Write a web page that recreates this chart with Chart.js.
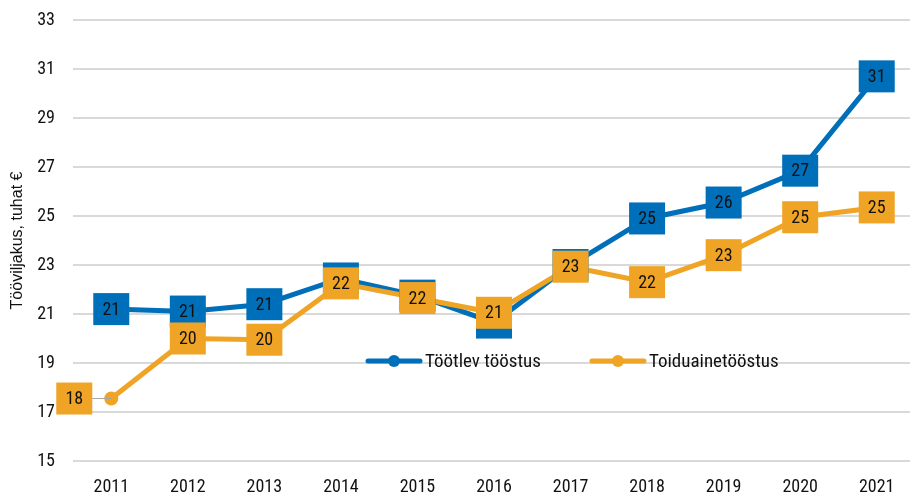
<!DOCTYPE html>
<html>
<head>
<meta charset="utf-8">
<script src="https://cdn.jsdelivr.net/npm/chart.js@4.4.1/dist/chart.umd.min.js"></script>
<style>
  html, body { margin: 0; padding: 0; background: #fff; overflow: hidden; }
  canvas { display: block; }
</style>
</head>
<body>
<canvas id="chart" width="922" height="492"></canvas>
<script>
// years on the x axis
const years = ['2011', '2012', '2013', '2014', '2015', '2016', '2017', '2018', '2019', '2020', '2021'];

// labour productivity, thousand euros per employee
const manufacturing = [21.2, 21.1, 21.4, 22.45, 21.75, 20.65, 23.0, 24.9, 25.55, 26.85, 30.7];
const foodIndustry  = [17.55, 20.0, 19.95, 22.25, 21.65, 21.05, 22.93, 22.3, 23.4, 24.95, 25.35];

const seriesNames = ['Töötlev tööstus', 'Toiduainetööstus'];
const yTicks = [15, 17, 19, 21, 23, 25, 27, 29, 31, 33];

const BLUE = '#006fb9';
const ORANGE = '#f0a425';
const condensed = '"Roboto Condensed", "Liberation Sans Narrow", sans-serif';

// square value boxes drawn on top of each point
const boxLabels = {
  id: 'boxLabels',
  afterDatasetsDraw(chart, args, opts) {
    const ctx = chart.ctx;
    ctx.save();
    ctx.font = '18px ' + condensed;
    ctx.textAlign = 'center';
    ctx.textBaseline = 'middle';
    chart.data.datasets.forEach((ds, di) => {
      const meta = chart.getDatasetMeta(di);
      meta.data.forEach((pt, i) => {
        const shift = (opts.shifts[di] && opts.shifts[di][i]) || 0;
        const cx = pt.x + shift;
        const cy = pt.y;
        if (shift) {
          ctx.strokeStyle = '#a6a6a6';
          ctx.lineWidth = 1;
          ctx.beginPath();
          ctx.moveTo(cx + (shift < 0 ? 18 : -18), cy);
          ctx.lineTo(pt.x, pt.y);
          ctx.stroke();
        }
        ctx.fillStyle = ds.borderColor;
        ctx.fillRect(cx - 18, cy - 16, 36, 32);
        ctx.fillStyle = '#111';
        ctx.fillText(Math.round(ds.data[i]), cx, cy + 1);
      });
    });
    ctx.restore();
  }
};

// legend sitting inside the plot area
const innerLegend = {
  id: 'innerLegend',
  afterDatasetsDraw(chart, args, opts) {
    const ctx = chart.ctx;
    ctx.save();
    ctx.font = '19px ' + condensed;
    ctx.textBaseline = 'middle';
    let x = opts.x;
    const y = opts.y;
    chart.data.datasets.forEach(ds => {
      ctx.strokeStyle = ds.borderColor;
      ctx.lineWidth = 5;
      ctx.lineCap = 'round';
      ctx.beginPath();
      ctx.moveTo(x + 2, y);
      ctx.lineTo(x + 54, y);
      ctx.stroke();
      ctx.fillStyle = ds.borderColor;
      ctx.beginPath();
      ctx.arc(x + 28, y, 6, 0, Math.PI * 2);
      ctx.fill();
      ctx.fillStyle = '#111';
      ctx.fillText(ds.label, x + 59, y + 1);
      x += 59 + ctx.measureText(ds.label).width + 49;
    });
    ctx.restore();
  }
};

new Chart(document.getElementById('chart'), {
  type: 'line',
  data: {
    labels: years,
    datasets: [{
      label: seriesNames[0],
      data: manufacturing,
      borderColor: BLUE,
      backgroundColor: BLUE,
      borderWidth: 5,
      pointRadius: 7,
      pointBorderWidth: 0,
      order: 1
    }, {
      label: seriesNames[1],
      data: foodIndustry,
      borderColor: ORANGE,
      backgroundColor: ORANGE,
      borderWidth: 5,
      pointRadius: 7,
      pointBorderWidth: 0,
      order: 0
    }]
  },
  options: {
    responsive: false,
    animation: false,
    layout: { padding: { top: 20, left: 0, right: 0, bottom: 0 } },
    plugins: {
      legend: { display: false },
      tooltip: { enabled: false },
      boxLabels: { shifts: [[], [-37]] },
      innerLegend: { x: 366, y: 361 }
    },
    scales: {
      x: {
        offset: true,
        grid: { display: false },
        border: { display: false },
        ticks: { color: '#111', font: { family: condensed, size: 18 }, padding: 8 },
        afterFit(scale) {
          scale.height = 31;
          scale.paddingLeft = 0;
          scale.paddingRight = 0;
        }
      },
      y: {
        min: 15,
        max: 33,
        afterBuildTicks(scale) { scale.ticks = yTicks.map(v => ({ value: v })); },
        grid: { color: '#d9d9d9', lineWidth: 2, drawTicks: false },
        border: { display: false },
        ticks: { color: '#111', font: { family: condensed, size: 18 }, padding: 18 },
        title: {
          display: true,
          text: 'Tööviljakus, tuhat €',
          color: '#111',
          font: { family: '"Liberation Sans", Arial, sans-serif', size: 16 },
          padding: { top: 8, bottom: 0 }
        },
        afterFit(scale) {
          scale.width = 73;
          scale.paddingTop = 0;
          scale.paddingBottom = 0;
        }
      }
    }
  },
  plugins: [boxLabels, innerLegend]
});
</script>
</body>
</html>
